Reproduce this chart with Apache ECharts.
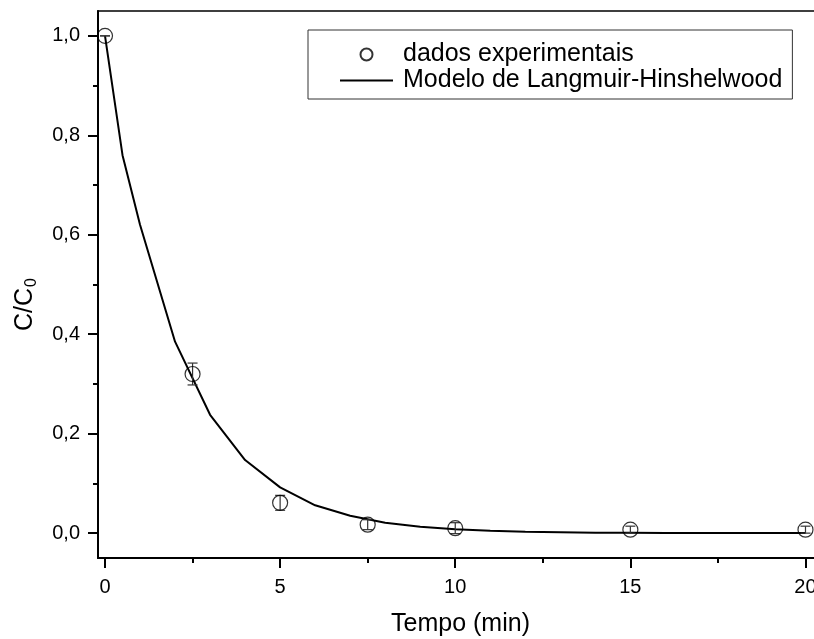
<!DOCTYPE html>
<html>
<head>
<meta charset="utf-8">
<script src="https://cdn.jsdelivr.net/npm/echarts@6/dist/echarts.min.js"></script>
<style>html,body{margin:0;padding:0;background:#fff}#c{width:814px;height:639px}</style>
</head>
<body>
<div id="c"></div>
<script>
// ---- data ----
const expTime = [0, 2.5, 5, 7.5, 10, 15, 20];
const expValue = [1.0, 0.32, 0.061, 0.017, 0.010, 0.007, 0.007];
const expError = [0, 0.022, 0.015, 0.010, 0.011, 0.007, 0.007];
const modelTime = [0, 0.5, 1, 2, 3, 4, 5, 6, 7, 8, 9, 10, 11, 12, 13, 14, 15, 16, 17, 18, 19, 20];
const modelValue = [1.0, 0.76, 0.62, 0.385, 0.238, 0.147, 0.092, 0.056, 0.035, 0.021, 0.013, 0.008, 0.005, 0.003, 0.002, 0.001, 0.001, 0.0005, 0.0003, 0.0002, 0.0001, 0.0001];
const xMajorTicks = [0, 5, 10, 15, 20];
const xMinorTicks = [2.5, 7.5, 12.5, 17.5];
const yMajorTicks = [0, 0.2, 0.4, 0.6, 0.8, 1.0];
const yMinorTicks = [0.1, 0.3, 0.5, 0.7, 0.9];
const seriesNames = ['dados experimentais', 'Modelo de Langmuir-Hinshelwood'];

const FONT = 'Liberation Sans, Arial, sans-serif';
const chart = echarts.init(document.getElementById('c'), null, {renderer: 'canvas'});

const xCommon = {type: 'value', min: -0.2, max: 20.5, splitLine: {show: false}};
const yCommon = {type: 'value', min: -0.05, max: 1.05, splitLine: {show: false}};

const option = {
  backgroundColor: '#fff',
  animation: false,
  grid: {left: 98, top: 11, right: -9, bottom: 81, containLabel: false, outerBoundsMode: 'none',
    show: true, borderColor: '#000', borderWidth: 1.5, backgroundColor: 'transparent'},
  legend: {
    orient: 'vertical', left: 308, top: 30,
    borderColor: '#333', borderWidth: 1, padding: [12, 10, 6, 32],
    itemWidth: 53, itemHeight: 12, itemGap: 1, symbolKeepAspect: true,
    textStyle: {fontSize: 25, fontFamily: FONT, color: '#000', padding: [0, 0, 0, 5]},
    data: [
      {name: seriesNames[0], icon: 'circle'},
      {name: seriesNames[1], icon: 'path://M0,0H53V2H0Z'}
    ]
  },
  xAxis: [
    Object.assign({}, xCommon, {
      position: 'bottom',
      name: 'Tempo (min)', nameLocation: 'middle', nameGap: 54, nameMoveOverlap: false,
      nameTextStyle: {fontSize: 25, fontFamily: FONT, color: '#000'},
      axisLine: {show: true, onZero: false, lineStyle: {color: '#000', width: 2}},
      axisTick: {show: true, inside: false, length: 10, customValues: xMajorTicks, lineStyle: {color: '#000', width: 2}},
      axisLabel: {show: true, customValues: xMajorTicks, margin: 19, fontSize: 20, fontFamily: FONT, color: '#000'}
    }),
    Object.assign({}, xCommon, {
      position: 'bottom',
      axisLine: {show: false, onZero: false},
      axisTick: {show: true, inside: false, length: 5, customValues: xMinorTicks, lineStyle: {color: '#000', width: 2}},
      axisLabel: {show: false}
    })
  ],
  yAxis: [
    Object.assign({}, yCommon, {
      position: 'left',
      name: '{a|C/C}{b|0}', nameLocation: 'middle', nameGap: 58, nameMoveOverlap: false,
      nameTextStyle: {
        fontSize: 25, fontFamily: FONT, color: '#000', padding: [0, 40, 0, 0],
        rich: {a: {fontSize: 25, fontFamily: FONT, color: '#000'}, b: {fontSize: 16, fontFamily: FONT, color: '#000', verticalAlign: 'bottom', padding: [14, 0, 0, 1]}}
      },
      axisLine: {show: true, onZero: false, lineStyle: {color: '#000', width: 2}},
      axisTick: {show: true, inside: false, length: 10, customValues: yMajorTicks, lineStyle: {color: '#000', width: 2}},
      axisLabel: {show: true, customValues: yMajorTicks, margin: 18, fontSize: 20, fontFamily: FONT, color: '#000',
        formatter: v => v.toFixed(1).replace('.', ',')}
    }),
    Object.assign({}, yCommon, {
      position: 'left',
      axisLine: {show: false, onZero: false},
      axisTick: {show: true, inside: false, length: 5, customValues: yMinorTicks, lineStyle: {color: '#000', width: 2}},
      axisLabel: {show: false}
    })
  ],
  series: [
    {
      name: seriesNames[1], type: 'line', xAxisIndex: 0, yAxisIndex: 0,
      data: modelTime.map((t, i) => [t, modelValue[i]]),
      symbol: 'none', showSymbol: false, smooth: false,
      lineStyle: {color: '#000', width: 2}, itemStyle: {color: '#000'}, z: 2
    },
    {
      name: 'err', type: 'custom', xAxisIndex: 0, yAxisIndex: 0,
      data: expTime.map((t, i) => [t, expValue[i] - expError[i], expValue[i] + expError[i]]),
      renderItem: function (params, api) {
        const x = api.value(0);
        const lo = api.coord([x, api.value(1)]);
        const hi = api.coord([x, api.value(2)]);
        const w = 5;
        const st = {stroke: '#333', lineWidth: 1.2};
        return {type: 'group', children: [
          {type: 'line', shape: {x1: lo[0], y1: lo[1], x2: hi[0], y2: hi[1]}, style: st},
          {type: 'line', shape: {x1: lo[0] - w, y1: lo[1], x2: lo[0] + w, y2: lo[1]}, style: st},
          {type: 'line', shape: {x1: hi[0] - w, y1: hi[1], x2: hi[0] + w, y2: hi[1]}, style: st}
        ]};
      },
      z: 3
    },
    {
      name: seriesNames[0], type: 'scatter', xAxisIndex: 0, yAxisIndex: 0,
      data: expTime.map((t, i) => [t, expValue[i]]),
      symbol: 'circle', symbolSize: 15,
      itemStyle: {color: 'rgba(255,255,255,0)', borderColor: '#000', borderWidth: 1.2}, z: 4
    }
  ]
};
chart.setOption(option);
</script>
</body>
</html>
